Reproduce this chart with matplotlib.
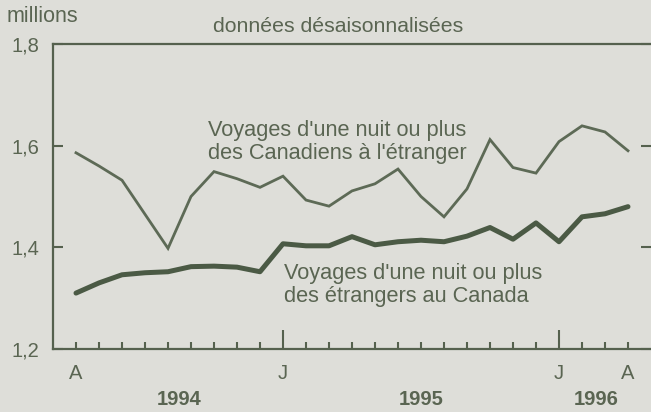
import matplotlib
matplotlib.use('Agg')
import matplotlib.pyplot as plt
import numpy as np

plt.rcParams['font.family'] = ['Liberation Sans', 'DejaVu Sans']

# monthly values, avril 1994 .. avril 1996 (millions)
months = list(range(25))
canadiens = [1.586, 1.560, 1.532, 1.465, 1.398, 1.500, 1.549, 1.535, 1.518,
             1.540, 1.493, 1.481, 1.511, 1.525, 1.554, 1.500, 1.460, 1.515,
             1.612, 1.557, 1.546, 1.608, 1.639, 1.627, 1.590]
etrangers = [1.310, 1.330, 1.346, 1.350, 1.352, 1.362, 1.363, 1.361, 1.352,
             1.407, 1.403, 1.403, 1.421, 1.405, 1.411, 1.414, 1.411, 1.422,
             1.439, 1.416, 1.448, 1.411, 1.460, 1.466, 1.480]

month_pos = [0, 9, 21, 24]
month_txt = ['A', 'J', 'J', 'A']
year_pos = [4.5, 15.0, 22.6]
year_txt = ['1994', '1995', '1996']
yticks = [1.2, 1.4, 1.6, 1.8]
ylabels = ['1,2', '1,4', '1,6', '1,8']

bg = '#deded9'
ink = '#55614e'
txt = '#5a6552'

fig = plt.figure(figsize=(6.51, 4.12), dpi=100, facecolor=bg)
ax = fig.add_axes([53/651, 63/412, 598/651, 305/412])
ax.set_facecolor(bg)

ax.plot(months, canadiens, color='#5d6a56', lw=2.0, solid_joinstyle='miter')
ax.plot(months, etrangers, color='#4b5a45', lw=3.6, solid_capstyle='round')

ax.set_xlim(-1, 25)
ax.set_ylim(1.2, 1.8)

for s in ['left', 'top', 'bottom']:
    ax.spines[s].set_color(ink)
    ax.spines[s].set_linewidth(1.6)
ax.spines['right'].set_visible(False)

ax.set_yticks(yticks)
ax.set_yticklabels(ylabels)
ax.tick_params(axis='y', direction='in', length=7, width=1.5, color=ink,
               right=True, labelsize=14.5, labelcolor=txt, pad=10)

ax.set_xticks([9, 21])
ax.set_xticklabels([])
ax.set_xticks(months, minor=True)
ax.tick_params(axis='x', which='major', direction='in', length=14, width=1.5, color=ink)
ax.tick_params(axis='x', which='minor', direction='in', length=5, width=1.5, color=ink)

tr = ax.get_xaxis_transform()
for p, t in zip(month_pos, month_txt):
    ax.text(p, -0.079, t, transform=tr, ha='center', va='center', fontsize=14.5, color=txt)
for p, t in zip(year_pos, year_txt):
    ax.text(p, -0.167, t, transform=tr, ha='center', va='center', fontsize=14.5,
            color=txt, fontweight='bold')

ax.text(5.74, 1.607, "Voyages d'une nuit ou plus\ndes Canadiens à l'étranger",
        ha='left', va='center', fontsize=15.7, color=txt, linespacing=1.1)
ax.text(9.04, 1.326, "Voyages d'une nuit ou plus\ndes étrangers au Canada",
        ha='left', va='center', fontsize=15.7, color=txt, linespacing=1.1)

fig.text(7/651, 1 - 17/412, 'millions', ha='left', va='center', fontsize=15.5, color=txt)
fig.text(338/651, 1 - 27/412, 'données désaisonnalisées', ha='center', va='center',
         fontsize=15.3, color=txt)

plt.savefig('out.png', dpi=100, facecolor=bg)
